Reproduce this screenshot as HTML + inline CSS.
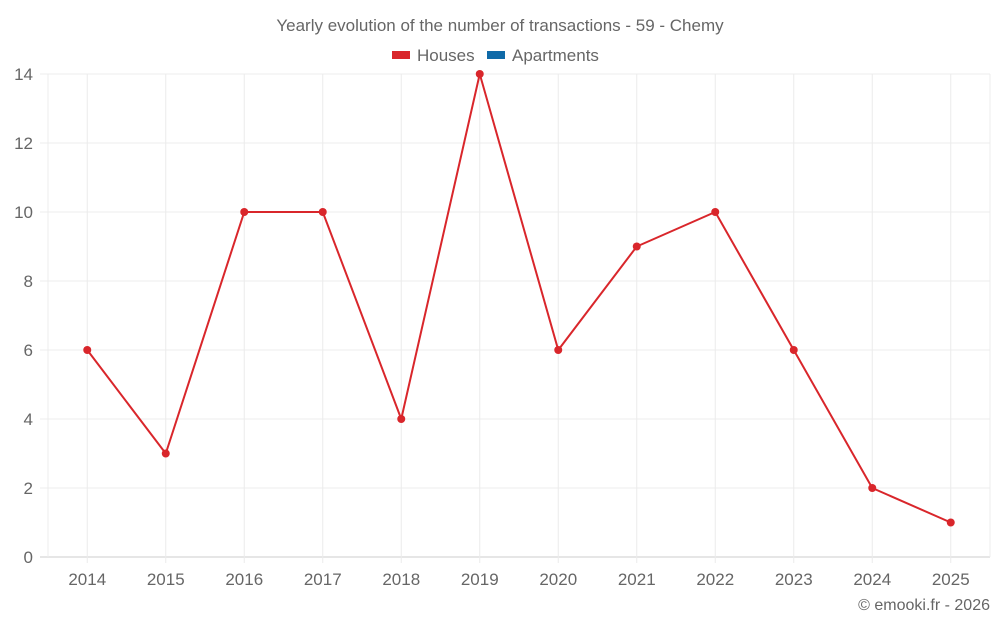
<!DOCTYPE html>
<html><head><meta charset="utf-8"><style>
body{margin:0;background:#fff;font-family:"Liberation Sans",sans-serif;}
svg text{font-family:"Liberation Sans",sans-serif;fill:#666;}
</style></head><body>
<svg id="chart" width="1000" height="625">
<text x="500" y="31" text-anchor="middle" font-size="17">Yearly evolution of the number of transactions - 59 - Chemy</text>
<g><rect x="392" y="51" width="18" height="8" fill="#d9262b"/><text x="417" y="61" font-size="17">Houses</text></g>
<g><rect x="487" y="51" width="18" height="8" fill="#0f6aa8"/><text x="512" y="61" font-size="17">Apartments</text></g>
<g id="grid"></g><g id="axes"></g><g id="series"></g>
<text x="990" y="610" text-anchor="end" font-size="16">© emooki.fr - 2026</text>
</svg>
<script>
const categories=["2014","2015","2016","2017","2018","2019","2020","2021","2022","2023","2024","2025"];
const houses=[6,3,10,10,4,14,6,9,10,6,2,1];
const yTicks=[0,2,4,6,8,10,12,14];
const NS="http://www.w3.org/2000/svg";
const L=48,R=990,T=74,B=557,yMax=14;
const bw=(R-L)/categories.length;
const x=i=>L+bw*(i+0.5);
const y=v=>B-(v/yMax)*(B-T);
function mk(tag,attrs,parent){const e=document.createElementNS(NS,tag);for(const k in attrs)e.setAttribute(k,attrs[k]);parent.appendChild(e);return e;}
const grid=document.getElementById('grid'),axes=document.getElementById('axes'),series=document.getElementById('series');
yTicks.forEach(v=>{
  const l=mk('line',{x1:40,x2:R,y1:y(v),y2:y(v),stroke:v===0?'#ccc':'#ececec','stroke-width':1},grid);
  
  
  const t=mk('text',{x:33,y:y(v)+6,'text-anchor':'end','font-size':17},axes);
  t.textContent=v;
  
  
});
[L,R].forEach(xx=>{
  const l=mk('line',{x1:xx,x2:xx,y1:T,y2:B,stroke:'#ececec','stroke-width':1},grid);
  
  
});
categories.forEach((c,i)=>{
  const l=mk('line',{x1:x(i),x2:x(i),y1:T,y2:B+6,stroke:'#ececec','stroke-width':1},grid);
  
  
  const t=mk('text',{x:x(i),y:585,'text-anchor':'middle','font-size':17},axes);
  t.textContent=c;
  
  
});
const p=mk('polyline',{points:houses.map((v,i)=>x(i)+','+y(v)).join(' '),fill:'none',stroke:'#d9262b','stroke-width':2},series);


houses.forEach((v,i)=>{
  const c=mk('circle',{cx:x(i),cy:y(v),r:4,fill:'#d9262b'},series);
  
  
});
</script>
</body></html>
